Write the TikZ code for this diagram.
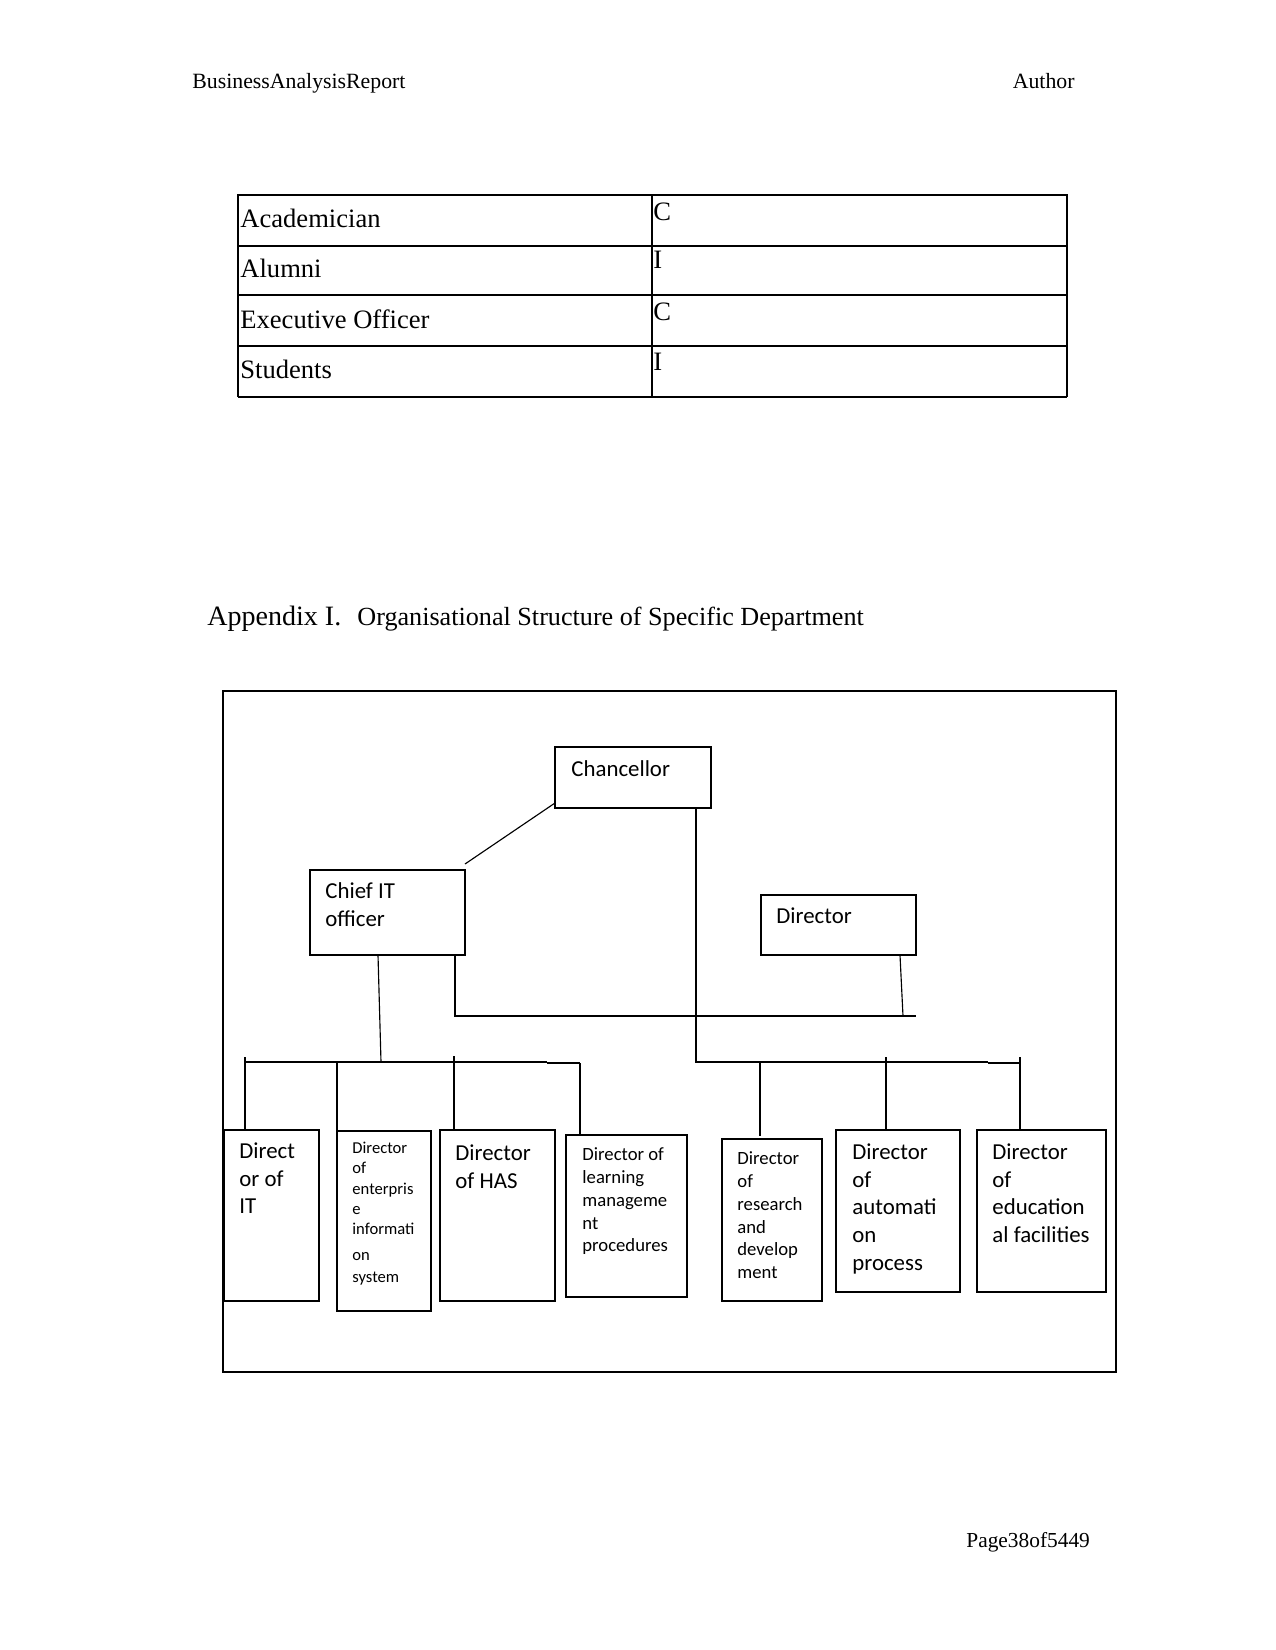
\documentclass[tikz,border=0pt]{standalone}
\usepackage{fontspec}
\setmainfont{Liberation Serif}
\newfontfamily\carlito{Carlito}
\usetikzlibrary{fit}
\begin{document}
\begin{tikzpicture}[x=0.169333mm,y=-0.169333mm,
  box/.style={draw,line width=0.55pt,inner sep=0pt},
  tline/.style={line width=0.7pt},
  conn/.style={line width=0.55pt},
  lbl/.style={anchor=north west,inner sep=0pt,align=left,font=\carlito\fontsize{11}{13.3}\selectfont},
  lblnine/.style={lbl,font=\carlito\fontsize{9}{11}\selectfont},
  lbleight/.style={lbl,font=\carlito\fontsize{8}{9.8}\selectfont},
  ser/.style={anchor=base west,inner sep=0pt},
  tabtxt/.style={ser,font=\fontsize{12.8}{15}\selectfont},
]
\useasboundingbox[fill=white] (0,0) rectangle (1275,1650);

% header
\node[ser,font=\fontsize{10.5}{12}\selectfont] (hl) at (192,88) {BusinessAnalysisReport};
\node[anchor=base east,inner sep=0pt,font=\fontsize{10.5}{12}\selectfont] (hr) at (1075,88) {Author};

% table
\draw[tline] (238,397) -- (238,195) -- (1067,195) -- (1067,397);
\draw[line width=1.2pt] (238,397) -- (1067,397);
\draw[tline] (238,246) -- (1067,246) (238,295) -- (1067,295) (238,346) -- (1067,346);
\draw[tline] (652,195) -- (652,397);
\node[tabtxt] (t1) at (240,227) {Academician};
\node[tabtxt] (t2) at (240,277) {Alumni};
\node[tabtxt] (t3) at (240,328) {Executive Officer};
\node[tabtxt] (t4) at (240,378) {Students};
\node[tabtxt] (v1) at (653,220) {C};
\node[tabtxt] (v2) at (653,268) {I};
\node[tabtxt] (v3) at (653,320) {C};
\node[tabtxt] (v4) at (653,370) {I};

% title
\node[ser,font=\fontsize{13.5}{16}\selectfont] (app) at (207,625) {Appendix I.};
\node[ser,font=\fontsize{12.6}{15}\selectfont] (ttl) at (357,625) {Organisational Structure of Specific Department};

% frame
\node[box,fit={(223,691) (1116,1372)}] (frame) {};

% boxes
\node[box,fit={(555,747) (711,808)}] (chan) {};
\node[box,fit={(310,870) (465,955)}] (cito) {};
\node[box,fit={(761,895) (916,955)}] (dir) {};
\node[box,fit={(224,1130) (319,1301)}] (b1) {};
\node[box,fit={(337,1131) (431,1311)}] (b2) {};
\node[box,fit={(440,1130) (555,1301)}] (b3) {};
\node[box,fit={(566,1135) (687,1297)}] (b4) {};
\node[box,fit={(722,1139) (822,1301)}] (b5) {};
\node[box,fit={(836,1130) (960,1292)}] (b6) {};
\node[box,fit={(977,1130) (1106,1292)}] (b7) {};

% labels
\node[lbl] (lchan) at (571,760.5) {Chancellor};
\node[lbl] (lcito) at (325,882.5) {Chief IT\\officer};
\node[lbl] (ldir) at (776,907.5) {Director};
\node[lbl] (l1) at (239,1142.5) {Direct\\or of\\IT};
\node[lbleight] (l2) at (352,1141.7) {Director\\of\\enterpris\\e\\informati\\[2.7pt]on\\[0.7pt]system};
\node[lbl] (l3) at (455,1144.5) {Director\\of HAS};
\node[lblnine] (l4) at (582,1147.3) {Director of\\learning\\manageme\\nt\\procedures};
\node[lblnine] (l5) at (737,1151.3) {Director\\of\\research\\and\\develop\\ment};
\node[lbl] (l6) at (852,1143.5) {Director\\of\\automati\\on\\process};
\node[lbl] (l7) at (992,1143.5) {Director\\of\\education\\al facilities};

% connector points
\coordinate (dA) at (555,803);
\coordinate (dB) at (465,864);
\coordinate (c1) at (696,808);
\coordinate (c2) at (696,1062);
\coordinate (rb1) at (988,1062);
\coordinate (rb2) at (988,1063);
\coordinate (rb3) at (1020,1063);
\coordinate (r5a) at (760,1062);
\coordinate (r5b) at (760,1136);
\coordinate (r6a) at (886,1057);
\coordinate (r6b) at (886,1130);
\coordinate (r7a) at (1020,1057);
\coordinate (r7b) at (1020,1130);
\coordinate (cr1) at (455,955);
\coordinate (cr2) at (455,1016);
\coordinate (cr3) at (916,1016);
\coordinate (dr1) at (900,955);
\coordinate (dr2) at (903,1016);
\coordinate (cd1) at (378,955);
\coordinate (cd2) at (381,1062);
\coordinate (lb1) at (245,1062);
\coordinate (lb2) at (547,1062);
\coordinate (lb3) at (547,1063);
\coordinate (lb4) at (580,1063);
\coordinate (l1a) at (245,1057);
\coordinate (l1b) at (245,1129);
\coordinate (l2a) at (337,1062);
\coordinate (l2b) at (337,1136);
\coordinate (l3a) at (454,1056);
\coordinate (l3b) at (454,1129);
\coordinate (l4a) at (580,1063);
\coordinate (l4b) at (580,1134);

% connectors
\draw[conn] (dA) -- (dB);
\draw[conn] (c1) -- (c2) -- (rb1) (rb2) -- (rb3);
\draw[conn] (r5a) -- (r5b) (r6a) -- (r6b) (r7a) -- (r7b);
\draw[conn] (cr1) -- (cr2) -- (cr3);
\draw[conn] (dr1) -- (dr2);
\draw[conn] (cd1) -- (cd2);
\draw[conn] (lb1) -- (lb2) (lb3) -- (lb4);
\draw[conn] (l1a) -- (l1b) (l2a) -- (l2b) (l3a) -- (l3b) (l4a) -- (l4b);

% footer
\node[ser,font=\fontsize{10.3}{12}\selectfont] (pg) at (966,1547) {Page38of5449};
\end{tikzpicture}
\end{document}
